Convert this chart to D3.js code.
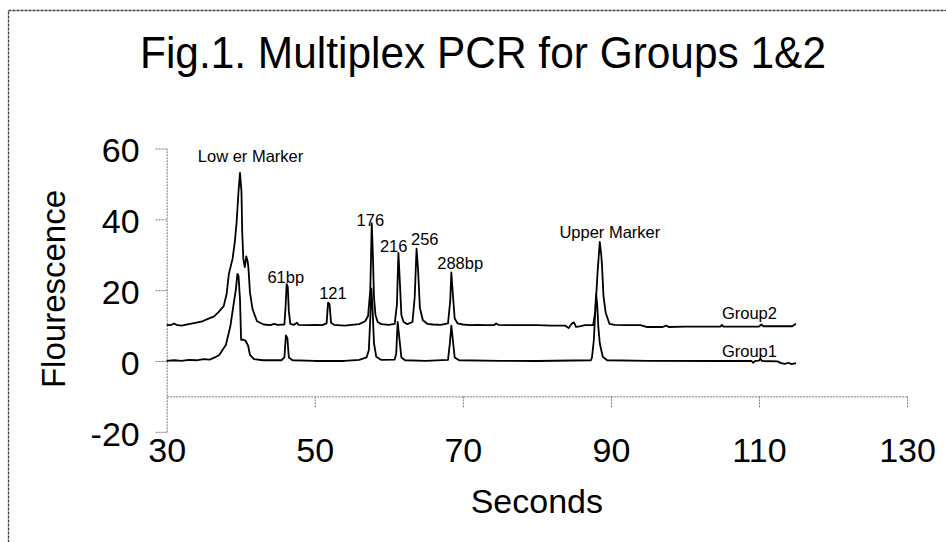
<!DOCTYPE html>
<html>
<head>
<meta charset="utf-8">
<script src="https://cdn.jsdelivr.net/npm/d3@7"></script>
<style>
  body { margin: 0; background: #fff; }
  svg text { font-family: "Liberation Sans", Arial, sans-serif; fill: #000; }
</style>
</head>
<body>
<script>

// ---------- data ----------

var group2Time = [30.0, 30.5, 31.0, 31.3, 32.0, 33.0, 34.0, 34.8, 35.5, 36.4, 37.0, 37.7, 38.1, 38.4, 38.9, 39.2, 39.45, 39.7, 39.9, 40.1,
  40.2, 40.35, 40.55, 40.75, 40.95, 41.05, 41.25, 41.6, 42.2, 43.1, 44.0, 44.5, 45.0, 45.9, 46.05, 46.2, 46.35, 46.5, 46.7, 47.2,
  47.6, 47.8, 49.0, 50.0, 51.0, 51.6, 51.8, 52.0, 52.2, 52.6, 54.0, 55.0, 56.0, 56.8, 57.2, 57.5, 57.7, 57.85, 58.0, 58.2,
  58.5, 59.0, 60.0, 60.8, 61.1, 61.3, 61.5, 61.7, 62.0, 62.5, 63.2, 63.5, 63.75, 63.95, 64.2, 64.6, 65.2, 66.0, 67.0, 68.0,
  68.3, 68.45, 68.65, 68.9, 69.3, 70.0, 71.0, 72.0, 73.0, 74.2, 74.5, 74.8, 76.0, 78.0, 80.0, 82.0, 83.8, 84.3, 84.7, 85.0,
  85.3, 85.8, 86.5, 87.6, 87.9, 88.2, 88.5, 88.7, 88.8, 89.0, 89.3, 89.8, 90.5, 92.0, 94.0, 94.8, 97.0, 97.5, 97.8, 100.0,
  104.8, 105.0, 105.2, 110.0, 110.3, 110.6, 113.0, 114.5, 115.0];
var group2Value = [10.2, 10.1, 10.6, 10.2, 10.0, 10.4, 10.8, 11.2, 11.8, 12.6, 13.8, 15.5, 19.0, 24.6, 28.9, 33.6, 39.3, 47.9, 53.1, 47.9,
  36.5, 28.9, 26.5, 29.5, 28.0, 26.0, 19.3, 14.6, 11.2, 10.3, 10.1, 10.5, 10.2, 10.3, 15.0, 21.7, 21.0, 14.0, 10.5, 10.2,
  10.8, 10.2, 10.1, 10.2, 10.1, 10.6, 16.5, 16.0, 10.8, 10.2, 10.0, 10.2, 10.4, 11.2, 12.7, 20.0, 38.9, 30.0, 18.0, 13.0,
  11.0, 10.4, 10.2, 10.5, 16.0, 30.5, 22.0, 13.0, 11.0, 10.4, 11.0, 18.0, 31.7, 26.0, 15.0, 11.5, 10.5, 10.3, 10.2, 10.6,
  17.0, 25.0, 19.0, 12.0, 10.6, 10.3, 10.1, 10.2, 10.1, 10.1, 10.6, 10.2, 10.1, 10.1, 10.1, 10.0, 10.0, 9.3, 10.5, 10.9,
  9.6, 9.8, 10.1, 10.1, 14.0, 25.0, 33.6, 30.0, 27.0, 18.4, 13.6, 10.5, 10.2, 10.1, 10.1, 9.6, 9.6, 10.0, 9.6, 9.7,
  9.7, 10.2, 9.7, 9.7, 10.3, 9.8, 9.8, 9.8, 10.5];

var group1Time = [30.0, 31.0, 32.0, 33.0, 34.0, 35.0, 35.8, 36.5, 37.1, 38.0, 38.6, 39.0, 39.35, 39.55, 39.7, 39.9, 40.05, 40.4, 40.65, 41.0,
  41.25, 41.8, 43.0, 45.5, 45.9, 46.1, 46.3, 46.5, 47.0, 50.0, 54.0, 56.0, 57.0, 57.3, 57.5, 57.65, 57.8, 58.0, 58.3, 59.0,
  60.8, 61.0, 61.2, 61.45, 61.7, 62.2, 65.0, 68.0, 68.25, 68.45, 68.65, 68.9, 69.5, 75.0, 80.0, 87.3, 87.45, 87.7, 88.0, 88.15,
  88.3, 88.5, 88.9, 89.5, 95.0, 105.0, 109.0, 109.2, 109.5, 110.0, 110.2, 110.4, 112.5, 113.0, 113.5, 114.0, 114.4, 115.0];
var group1Value = [0.0, 0.2, 0.0, 0.3, 0.2, 0.5, 0.4, 1.0, 1.7, 4.6, 9.8, 15.5, 20.3, 24.6, 24.1, 17.4, 6.0, 6.0, 5.7, 4.3,
  1.7, 0.5, 0.2, 0.2, 1.0, 7.2, 6.5, 1.0, 0.2, 0.0, 0.0, 0.3, 1.0, 3.0, 12.0, 20.5, 15.0, 5.0, 1.2, 0.3,
  0.4, 2.0, 11.0, 6.0, 1.0, 0.2, 0.0, 0.3, 5.0, 10.0, 6.0, 1.0, 0.2, 0.0, 0.0, 0.2, 1.0, 6.0, 18.9, 16.0,
  9.8, 5.0, 1.2, 0.2, 0.0, 0.0, 0.0, -0.5, 0.0, 0.1, 0.6, 0.0, -0.1, -0.6, -0.8, -0.5, -0.9, -0.6];

var xTicks = [30, 50, 70, 90, 110, 130];
var yTicks = [60, 40, 20, 0, -20];

// peak annotations: text and the (seconds, fluorescence) point where each label starts
var peakLabels = ["Low er Marker", "61bp", "121", "176", "216", "256", "288bp", "Upper Marker"];
var peakLabelTime = [34.2, 43.6, 50.6, 55.65, 58.8, 63.0, 66.55, 83.05];
var peakLabelValue = [56.2, 21.9, 17.6, 38.1, 30.7, 32.8, 26.0, 34.6];

var seriesNames = ["Group2", "Group1"];
var seriesNameTime = [105.0, 105.0];
var seriesNameValue = [11.9, 1.2];

var titleText = "Fig.1. Multiplex PCR for Groups 1&2";
var xTitle = "Seconds";
var yTitle = "Flourescence";


// ---------- settings ----------

var windowSettings = {
  width : 946,//px
  height : 542,//px
};

var graphSettings = {
  left : 166.7,//px, x of 30 s
  right : 907,//px, x of 130 s
  top : 148.5,//px, y of 60
  bottom : 431.8,//px, y of -20
  xAxisAt : -10,//the time axis crosses here

  tickFont : 34,//px
  labelFont : 16.5,//px
  axisColor : "#7a7a7a",
  traceWidth : 1.8,
};


//***********************************

var svg = d3.select("body").append("svg")
  .attr("width", windowSettings.width)
  .attr("height", windowSettings.height);

var xScale = d3.scaleLinear()
  .domain([30, 130])
  .range([graphSettings.left, graphSettings.right]);

var yScale = d3.scaleLinear()
  .domain([-20, 60])
  .range([graphSettings.bottom, graphSettings.top]);


function addFrame() {
  svg.append("rect")
    .attr("x", 8.5)
    .attr("y", 10.5)
    .attr("width", 980)
    .attr("height", 580)
    .attr("fill", "none")
    .attr("stroke", "#3a3a3a")
    .attr("stroke-width", 1.3)
    .attr("stroke-dasharray", "3,1");
}


function styleAxis(g) {
  g.selectAll(".domain, .tick line")
    .attr("stroke", graphSettings.axisColor)
    .attr("stroke-width", 1)
    .attr("stroke-dasharray", "2,1");
  g.selectAll(".tick text")
    .attr("fill", "#000")
    .style("font-size", graphSettings.tickFont + "px")
    .style("font-family", '"Liberation Sans", Arial, sans-serif');
}


function addAxis() {
  var xAxis = d3.axisBottom(xScale)
    .tickValues(xTicks)
    .tickSize(11)
    .tickSizeOuter(0)
    .tickPadding(30)
    .tickFormat(function(d) { return String(d); });

  var gx = svg.append("g")
    .attr("transform", "translate(0," + yScale(graphSettings.xAxisAt) + ")")
    .call(xAxis);
  styleAxis(gx);
  gx.selectAll(".tick").filter(function(d) { return d == 30; }).select("line").remove();

  var yAxis = d3.axisLeft(yScale)
    .tickValues(yTicks)
    .tickSize(11)
    .tickSizeOuter(0)
    .tickPadding(16)
    .tickFormat(function(d) { return String(d); });//plain hyphen for -20

  var gy = svg.append("g")
    .attr("transform", "translate(" + graphSettings.left + ",0)")
    .call(yAxis);
  styleAxis(gy);
  gy.selectAll(".tick text").attr("dy", "0.39em");
}


function addTraces() {
  var line = d3.line()
    .x(function(d) { return xScale(d[0]); })
    .y(function(d) { return yScale(d[1]); });

  var traces = [d3.zip(group2Time, group2Value), d3.zip(group1Time, group1Value)];

  svg.append("g").selectAll("path")
    .data(traces)
    .join("path")
    .attr("d", line)
    .attr("fill", "none")
    .attr("stroke", "#000")
    .attr("stroke-width", graphSettings.traceWidth)
    .attr("stroke-linejoin", "round");
}


function addLabels() {
  svg.append("g").selectAll("text")
    .data(peakLabels)
    .join("text")
    .attr("x", function(d, i) { return xScale(peakLabelTime[i]); })
    .attr("y", function(d, i) { return yScale(peakLabelValue[i]); })
    .style("font-size", graphSettings.labelFont + "px")
    .text(function(d) { return d; });

  svg.append("g").selectAll("text")
    .data(seriesNames)
    .join("text")
    .attr("x", function(d, i) { return xScale(seriesNameTime[i]); })
    .attr("y", function(d, i) { return yScale(seriesNameValue[i]); })
    .style("font-size", graphSettings.labelFont + "px")
    .text(function(d) { return d; });
}


function addTitles() {
  svg.append("text")
    .attr("x", 483)
    .attr("y", 68.3)
    .attr("text-anchor", "middle")
    .attr("textLength", 686)
    .attr("lengthAdjust", "spacingAndGlyphs")
    .style("font-size", "44px")
    .text(titleText);

  svg.append("text")
    .attr("x", (graphSettings.left + graphSettings.right) / 2)
    .attr("y", 512.7)
    .attr("text-anchor", "middle")
    .style("font-size", "34px")
    .text(xTitle);

  svg.append("text")
    .attr("transform", "translate(65,289) rotate(-90)")
    .attr("text-anchor", "middle")
    .style("font-size", "33px")
    .text(yTitle);
}


addFrame();
addAxis();
addTraces();
addLabels();
addTitles();

</script>
</body>
</html>
